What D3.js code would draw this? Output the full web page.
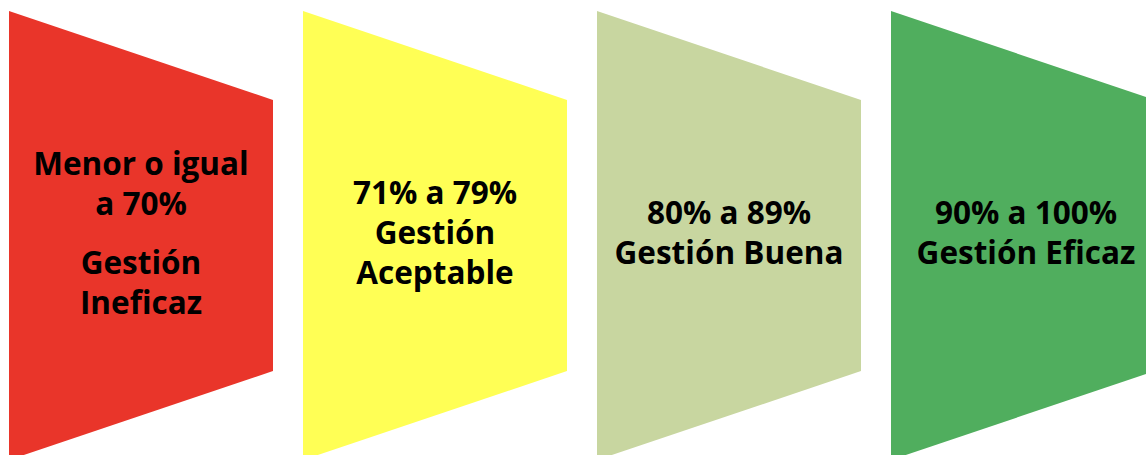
<!DOCTYPE html>
<html>
<head>
<meta charset="utf-8">
<script src="https://cdn.jsdelivr.net/npm/d3@7"></script>
<style>
    html, body { margin: 0; padding: 0; background: #fff; }
    svg { display: block; }
</style>
</head>
<body>
<svg id="chart"></svg>
<script>
const WIDTH = 1146;
const HEIGHT = 455;

// one entry per stage, left to right
const stages = ['ineficaz', 'aceptable', 'buena', 'eficaz'];
const stageColors = ['#e9352a', '#ffff55', '#c8d6a0', '#50ae5e'];
// each label is a list of paragraphs, each paragraph a list of lines
const stageLabels = [
    [['Menor o igual', 'a 70%'], ['Gestión', 'Ineficaz']],
    [['71% a 79%', 'Gestión', 'Aceptable']],
    [['80% a 89%', 'Gestión Buena']],
    [['90% a 100%', 'Gestión Eficaz']]
];

const SHAPE_TOP = 11;
const SHAPE_BOTTOM = 460;
const RIGHT_INSET = 89;
const LINE_HEIGHT = 40;
const PARA_GAP = 19;
const CAP_HEIGHT = 22;
const TEXT_MID = 233;

const svg = d3.select('#chart').attr('width', WIDTH).attr('height', HEIGHT);

// step of 294px, 264px wide shapes
const x = d3.scaleBand()
    .domain(stages)
    .range([9, 1155])
    .paddingInner(30 / 294)
    .paddingOuter(0);

const color = d3.scaleOrdinal().domain(stages).range(stageColors);

function shapePath(d) {
    const x0 = x(d);
    const x1 = x0 + x.bandwidth();
    const p = d3.path();
    p.moveTo(x0, SHAPE_TOP);
    p.lineTo(x1, SHAPE_TOP + RIGHT_INSET);
    p.lineTo(x1, SHAPE_BOTTOM - RIGHT_INSET);
    p.lineTo(x0, SHAPE_BOTTOM);
    p.closePath();
    return p.toString();
}

const group = svg.selectAll('g.stage')
    .data(stages)
    .join('g')
    .attr('class', 'stage');

group.append('path')
    .attr('d', shapePath)
    .attr('fill', (d) => color(d));

group.each(function (d, i) {
    const paras = stageLabels[i];
    const nLines = d3.sum(paras, (p) => p.length);
    const blockH = (nLines - 1) * LINE_HEIGHT + (paras.length - 1) * PARA_GAP + CAP_HEIGHT;
    let y = TEXT_MID - blockH / 2 + CAP_HEIGHT;
    const cx = x(d) + x.bandwidth() / 2 + (i === 3 ? 3 : 0);
    const text = d3.select(this).append('text')
        .attr('text-anchor', 'middle')
        .attr('font-family', '"Open Sans", sans-serif')
        .attr('font-weight', 700)
        .attr('font-size', 31.5)
        .attr('fill', '#000');
    paras.forEach((lines, pi) => {
        if (pi > 0) y += PARA_GAP;
        lines.forEach((line) => {
            text.append('tspan').attr('x', cx).attr('y', y).text(line);
            y += LINE_HEIGHT;
        });
    });
});
</script>
</body>
</html>
